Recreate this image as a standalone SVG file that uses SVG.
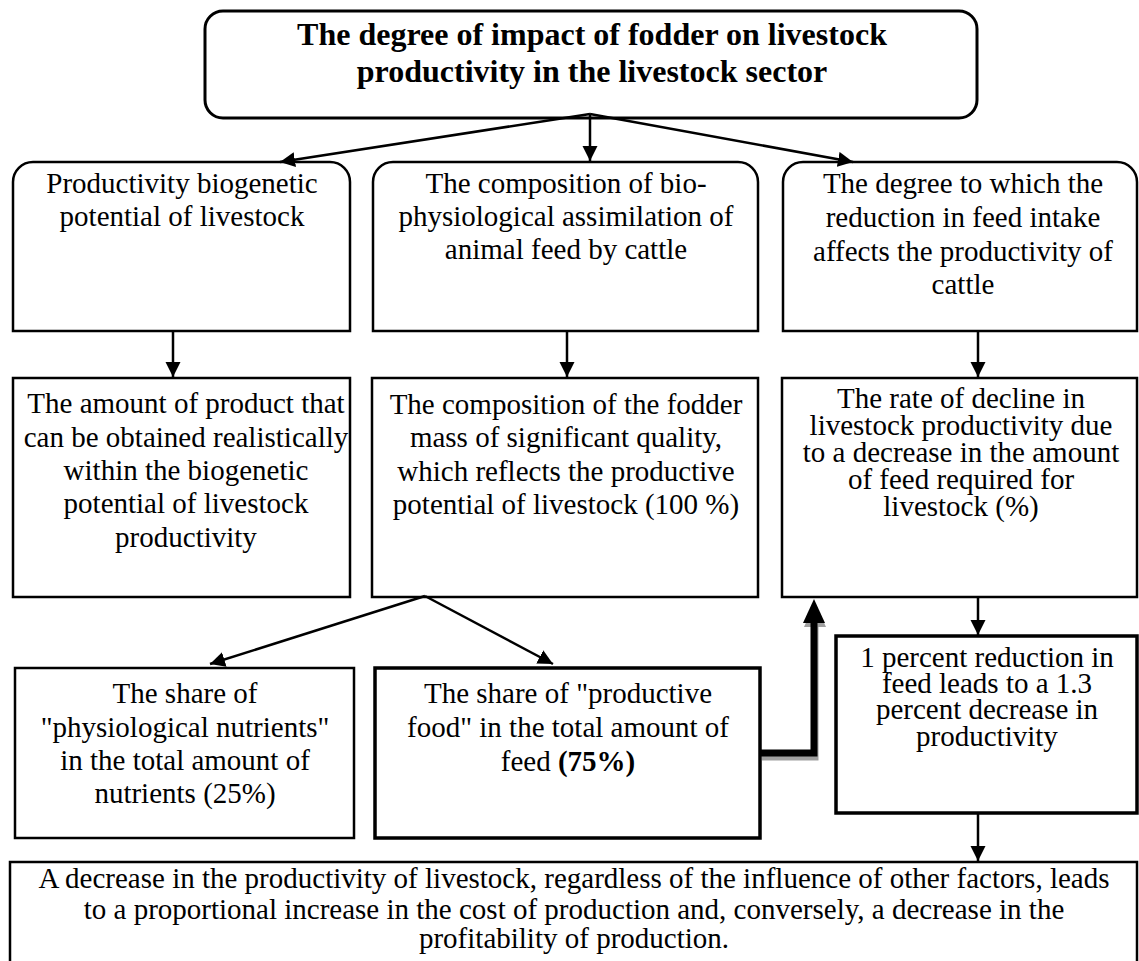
<svg xmlns="http://www.w3.org/2000/svg" width="1139" height="961" viewBox="0 0 1139 961">
<style>
.box{fill:#fff;stroke:#000;stroke-width:2.5}
.thick{stroke-width:3.5}
.t{font-family:"Liberation Serif","Times New Roman",serif;font-size:29px;fill:#000;text-anchor:middle}
.title{font-family:"Liberation Serif","Times New Roman",serif;font-size:32px;font-weight:bold;fill:#000;text-anchor:middle}
.c{stroke:#000;stroke-width:2.5;fill:none}
</style>
<defs>
<marker id="ah" markerUnits="userSpaceOnUse" markerWidth="16" markerHeight="16" refX="15" refY="8" orient="auto">
<path d="M0,0.5 L15,8 L0,15.5 z" fill="#000"/>
</marker>
</defs>
<rect width="1139" height="961" fill="#fff"/>

<g id="top">
<rect class="box" x="205" y="11" width="772" height="107" rx="18" ry="18" style="stroke-width:3"/>
<text class="title" x="592" y="45">The degree of impact of fodder on livestock</text>
<text class="title" x="592" y="82">productivity in the livestock sector</text>
</g>

<g id="r1-left">
<path class="box" d="M13,331 V182 A20,20 0 0 1 33,162 H330 A20,20 0 0 1 350,182 V331 Z"/>
<text class="t" x="182" y="193">Productivity biogenetic</text>
<text class="t" x="182" y="226">potential of livestock</text>
</g>
<g id="r1-mid">
<path class="box" d="M373,331 V182 A20,20 0 0 1 393,162 H738 A20,20 0 0 1 758,182 V331 Z"/>
<text class="t" x="566" y="193">The composition of bio-</text>
<text class="t" x="566" y="226">physiological assimilation of</text>
<text class="t" x="566" y="259">animal feed by cattle</text>
</g>
<g id="r1-right">
<path class="box" d="M783,331 V182 A20,20 0 0 1 803,162 H1117 A20,20 0 0 1 1137,182 V331 Z"/>
<text class="t" x="963" y="193">The degree to which the</text>
<text class="t" x="963" y="227">reduction in feed intake</text>
<text class="t" x="963" y="261">affects the productivity of</text>
<text class="t" x="963" y="294">cattle</text>
</g>

<g id="r2-left">
<rect class="box" x="13" y="378" width="337" height="219"/>
<text class="t" x="186" y="413">The amount of product that</text>
<text class="t" x="186" y="447">can be obtained realistically</text>
<text class="t" x="186" y="480">within the biogenetic</text>
<text class="t" x="186" y="513">potential of livestock</text>
<text class="t" x="186" y="547">productivity</text>
</g>
<g id="r2-mid">
<rect class="box" x="372" y="378" width="386" height="219"/>
<text class="t" x="566" y="414">The composition of the fodder</text>
<text class="t" x="566" y="447">mass of significant quality,</text>
<text class="t" x="566" y="481">which reflects the productive</text>
<text class="t" x="566" y="514">potential of livestock (100 %)</text>
</g>
<g id="r2-right">
<rect class="box" x="782" y="378" width="355" height="219"/>
<text class="t" x="961" y="408">The rate of decline in</text>
<text class="t" x="961" y="435">livestock productivity due</text>
<text class="t" x="961" y="462">to a decrease in the amount</text>
<text class="t" x="961" y="489">of feed required for</text>
<text class="t" x="961" y="516">livestock (%)</text>
</g>

<g id="r3-left">
<rect class="box" x="15" y="668" width="339" height="170"/>
<text class="t" x="185" y="703">The share of</text>
<text class="t" x="185" y="737">"physiological nutrients"</text>
<text class="t" x="185" y="770">in the total amount of</text>
<text class="t" x="185" y="803">nutrients (25%)</text>
</g>
<g id="r3-mid">
<rect class="box thick" x="375" y="668" width="385" height="170"/>
<text class="t" x="568" y="703">The share of "productive</text>
<text class="t" x="568" y="737">food" in the total amount of</text>
<text class="t" x="568" y="771">feed <tspan font-weight="bold">(75%)</tspan></text>
</g>
<g id="r3-right">
<rect class="box thick" x="836" y="636" width="301" height="177"/>
<text class="t" x="987" y="667">1 percent reduction in</text>
<text class="t" x="987" y="693">feed leads to a 1.3</text>
<text class="t" x="987" y="719">percent decrease in</text>
<text class="t" x="987" y="746">productivity</text>
</g>

<g id="bottom">
<rect class="box" x="10" y="862" width="1127" height="120"/>
<text class="t" x="574" y="888">A decrease in the productivity of livestock, regardless of the influence of other factors, leads</text>
<text class="t" x="574" y="919">to a proportional increase in the cost of production and, conversely, a decrease in the</text>
<text class="t" x="574" y="948">profitability of production.</text>
</g>

<g id="connectors">
<line class="c" x1="590" y1="114" x2="280" y2="162" marker-end="url(#ah)"/>
<line class="c" x1="590" y1="114" x2="590" y2="161" marker-end="url(#ah)"/>
<line class="c" x1="590" y1="114" x2="853" y2="162" marker-end="url(#ah)"/>
<line class="c" x1="173" y1="331" x2="173" y2="377" marker-end="url(#ah)"/>
<line class="c" x1="567" y1="331" x2="567" y2="377" marker-end="url(#ah)"/>
<line class="c" x1="978" y1="331" x2="978" y2="377" marker-end="url(#ah)"/>
<line class="c" x1="425" y1="596" x2="210" y2="664" marker-end="url(#ah)"/>
<line class="c" x1="425" y1="596" x2="553" y2="664" marker-end="url(#ah)"/>
<line class="c" x1="978" y1="597" x2="978" y2="635" marker-end="url(#ah)"/>
<line class="c" x1="978" y1="813" x2="978" y2="861" marker-end="url(#ah)"/>
<g id="thick-arrow">
<path d="M762,757 H815 V626" fill="none" stroke="#a0a0a0" stroke-width="7"/>
<polygon points="804,627 826,627 815,603" fill="#a0a0a0"/>
<path d="M760,753 H814 V622" fill="none" stroke="#000" stroke-width="7"/>
<polygon points="803,623 825,623 814,599" fill="#000"/>
</g>
</g>
</svg>
